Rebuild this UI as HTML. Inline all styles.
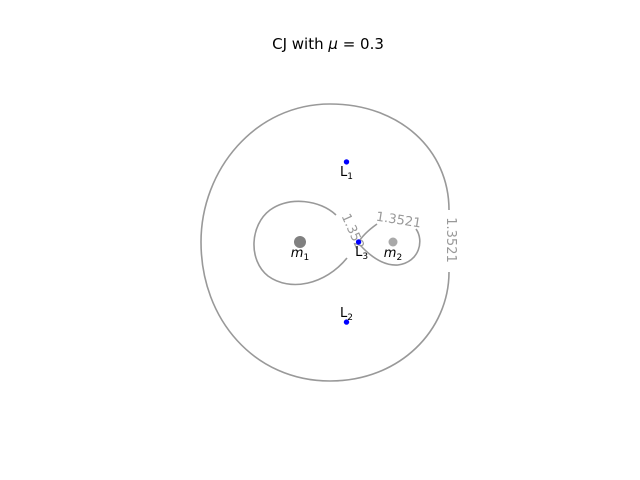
<!DOCTYPE html>
<html><head><meta charset="utf-8"><style>
html,body{margin:0;padding:0;background:#fff;}
svg{display:block;font-family:"DejaVu Sans","Liberation Sans",sans-serif;}
</style></head><body>
<svg id="chart" width="640" height="480" viewBox="0 0 640 480">
<text x="328" y="49" font-size="15" text-anchor="middle" fill="#000">CJ with <tspan font-style="italic">μ</tspan> = 0.3</text>
<g fill="none" stroke="#999" stroke-width="1.6">
<path d="M449,210 C449,150 400,104 330,104 C255,104 201,170 201,242 C201,320 255,381 330,381 C400,381 449,330 449,272"/>
<path d="M336,215 C320,200 290,196 270,210 C250,225 248,260 268,276 C290,292 325,285 347,258"/>
<path d="M358,243 C362,236 370,229 377,224"/>
<path d="M416,229 C424,240 420,262 398,265 C385,266 372,258 360,245"/>
</g>
<g fill="#999" font-size="13" text-anchor="middle">
<text transform="translate(398,224) rotate(9)">1.3521</text>
<text transform="translate(349,233) rotate(66)">1.352</text>
<text transform="translate(447,240) rotate(90)">1.3521</text>
</g>
<g id="marks"></g>
</svg>
<script>
const bodyNames = ["m1", "m2"];
const bodyX = [-0.3, 0.7];
const bodyY = [0, 0];
const pointNames = ["L1", "L2", "L3"];
const pointX = [0.2, 0.2, 0.33];
const pointY = [0.866, -0.866, 0];

const sx = v => 327.9 + v * 93;
const sy = v => 242 - v * 92.5;
const NS = "http://www.w3.org/2000/svg";
const g = document.getElementById("marks");
function mk(tag, attrs) { const e = document.createElementNS(NS, tag); for (const k in attrs) e.setAttribute(k, attrs[k]); g.appendChild(e); return e; }

bodyNames.forEach((n, i) => {
  const c = mk("circle", {cx: sx(bodyX[i]), cy: sy(bodyY[i]), r: i === 0 ? 6 : 4.5, fill: i === 0 ? "#808080" : "#a9a9a9"});
  
  
  const t = mk("text", {x: sx(bodyX[i]), y: sy(bodyY[i]) + 15, "font-size": 13, "text-anchor": "middle", fill: "#000"});
  
  
  const a = document.createElementNS(NS, "tspan"); a.setAttribute("font-style", "italic"); a.textContent = "m"; t.appendChild(a);
  const b = document.createElementNS(NS, "tspan"); b.setAttribute("font-size", "9"); b.setAttribute("dy", "3"); b.textContent = n.slice(1); t.appendChild(b);
});
pointNames.forEach((n, i) => {
  const c = mk("circle", {cx: sx(pointX[i]), cy: sy(pointY[i]), r: 2.7, fill: "#0000ff"});
  
  
  const below = pointY[i] >= 0;
  const t = mk("text", {x: sx(pointX[i]) + (i === 2 ? 3 : 0), y: sy(pointY[i]) + (below ? 14 : -5), "font-size": 13, "text-anchor": "middle", fill: "#000"});
  
  
  const a = document.createElementNS(NS, "tspan"); a.textContent = "L"; t.appendChild(a);
  const b = document.createElementNS(NS, "tspan"); b.setAttribute("font-size", "9"); b.setAttribute("dy", "3"); b.textContent = n.slice(1); t.appendChild(b);
});
</script>
</body></html>
